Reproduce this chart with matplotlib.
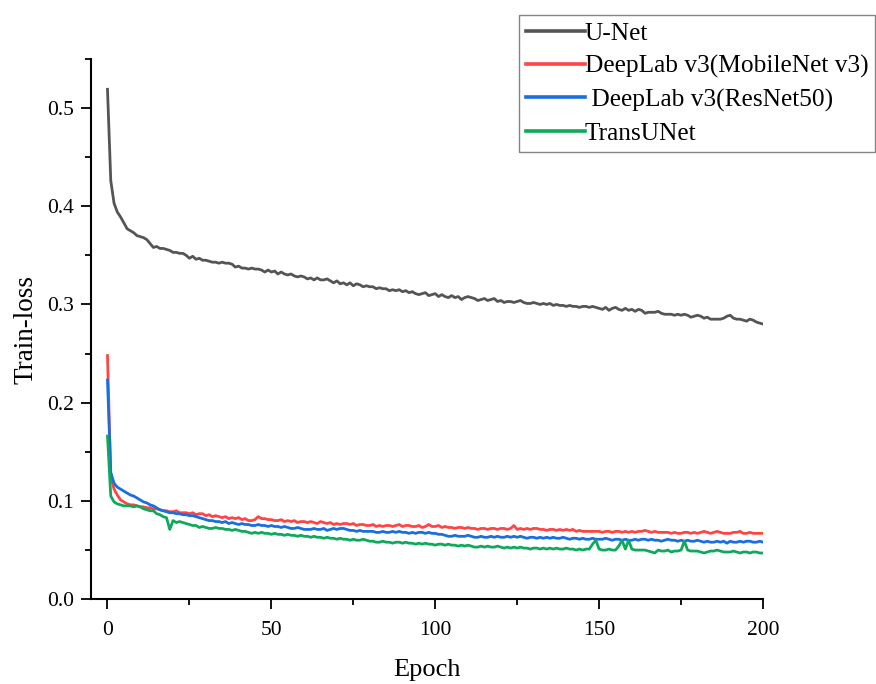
import numpy as np
import matplotlib
matplotlib.use("Agg")
import matplotlib.pyplot as plt

# train loss per epoch (epoch 0..200)
unet = [
    0.519, 0.426, 0.403, 0.394, 0.389, 0.383, 0.377, 0.375, 0.373, 0.370,
    0.369, 0.368, 0.366, 0.362, 0.358, 0.359, 0.357, 0.357, 0.356, 0.355,
    0.353, 0.353, 0.352, 0.352, 0.350, 0.347, 0.349, 0.346, 0.347, 0.345,
    0.345, 0.344, 0.343, 0.343, 0.342, 0.343, 0.342, 0.342, 0.341, 0.338,
    0.339, 0.337, 0.337, 0.336, 0.337, 0.336, 0.336, 0.335, 0.333, 0.335,
    0.333, 0.334, 0.331, 0.333, 0.331, 0.330, 0.331, 0.329, 0.328, 0.329,
    0.328, 0.326, 0.327, 0.325, 0.327, 0.325, 0.325, 0.326, 0.324, 0.322,
    0.324, 0.321, 0.322, 0.320, 0.322, 0.319, 0.321, 0.320, 0.318, 0.319,
    0.318, 0.318, 0.316, 0.317, 0.316, 0.316, 0.314, 0.315, 0.314, 0.315,
    0.313, 0.314, 0.312, 0.313, 0.311, 0.310, 0.311, 0.312, 0.309, 0.310,
    0.311, 0.308, 0.310, 0.308, 0.307, 0.309, 0.307, 0.308, 0.305, 0.307,
    0.308, 0.307, 0.306, 0.304, 0.305, 0.306, 0.304, 0.305, 0.306, 0.303,
    0.304, 0.302, 0.303, 0.303, 0.302, 0.303, 0.304, 0.302, 0.301, 0.301,
    0.302, 0.301, 0.300, 0.301, 0.300, 0.301, 0.299, 0.300, 0.299, 0.299,
    0.298, 0.299, 0.298, 0.298, 0.297, 0.298, 0.298, 0.297, 0.298, 0.297,
    0.296, 0.295, 0.297, 0.294, 0.296, 0.297, 0.295, 0.294, 0.296, 0.294,
    0.295, 0.293, 0.295, 0.294, 0.291, 0.292, 0.292, 0.292, 0.293, 0.291,
    0.290, 0.290, 0.290, 0.289, 0.290, 0.289, 0.290, 0.289, 0.287, 0.288,
    0.289, 0.288, 0.286, 0.287, 0.285, 0.285, 0.285, 0.285, 0.286, 0.288,
    0.289, 0.286, 0.285, 0.285, 0.284, 0.283, 0.285, 0.284, 0.282, 0.281,
    0.280,
]

mobilenet = [
    0.248, 0.125, 0.112, 0.106, 0.101, 0.099, 0.097, 0.096, 0.096, 0.095,
    0.094, 0.094, 0.093, 0.093, 0.092, 0.092, 0.091, 0.090, 0.090, 0.089,
    0.089, 0.090, 0.088, 0.088, 0.088, 0.087, 0.088, 0.086, 0.087, 0.087,
    0.085, 0.086, 0.084, 0.085, 0.084, 0.083, 0.084, 0.082, 0.083, 0.082,
    0.083, 0.081, 0.082, 0.080, 0.080, 0.081, 0.084, 0.082, 0.082, 0.081,
    0.081, 0.080, 0.080, 0.081, 0.079, 0.080, 0.079, 0.080, 0.078, 0.079,
    0.079, 0.078, 0.079, 0.078, 0.077, 0.079, 0.078, 0.077, 0.078, 0.076,
    0.077, 0.076, 0.077, 0.077, 0.076, 0.077, 0.075, 0.076, 0.076, 0.075,
    0.075, 0.076, 0.074, 0.075, 0.074, 0.075, 0.075, 0.074, 0.075, 0.076,
    0.074, 0.075, 0.075, 0.074, 0.074, 0.075, 0.073, 0.074, 0.076, 0.074,
    0.074, 0.075, 0.073, 0.074, 0.073, 0.073, 0.072, 0.073, 0.073, 0.072,
    0.073, 0.072, 0.072, 0.071, 0.072, 0.072, 0.071, 0.072, 0.072, 0.071,
    0.072, 0.072, 0.071, 0.072, 0.075, 0.071, 0.072, 0.071, 0.072, 0.071,
    0.072, 0.072, 0.071, 0.071, 0.070, 0.071, 0.071, 0.070, 0.071, 0.070,
    0.071, 0.070, 0.071, 0.069, 0.070, 0.069, 0.069, 0.069, 0.069, 0.069,
    0.069, 0.068, 0.069, 0.069, 0.068, 0.069, 0.069, 0.068, 0.069, 0.068,
    0.069, 0.068, 0.069, 0.069, 0.070, 0.069, 0.068, 0.069, 0.068, 0.068,
    0.068, 0.068, 0.067, 0.068, 0.067, 0.067, 0.068, 0.068, 0.067, 0.068,
    0.067, 0.068, 0.069, 0.068, 0.067, 0.068, 0.069, 0.068, 0.067, 0.067,
    0.067, 0.068, 0.068, 0.069, 0.067, 0.067, 0.068, 0.067, 0.067, 0.067,
    0.067,
]

resnet = [
    0.223, 0.129, 0.118, 0.114, 0.112, 0.110, 0.108, 0.106, 0.105, 0.103,
    0.101, 0.099, 0.098, 0.096, 0.095, 0.093, 0.091, 0.090, 0.089, 0.088,
    0.088, 0.087, 0.087, 0.086, 0.086, 0.085, 0.085, 0.084, 0.083, 0.082,
    0.081, 0.080, 0.080, 0.079, 0.079, 0.078, 0.079, 0.077, 0.078, 0.077,
    0.076, 0.077, 0.076, 0.076, 0.075, 0.075, 0.076, 0.075, 0.075, 0.074,
    0.075, 0.074, 0.074, 0.073, 0.074, 0.073, 0.072, 0.072, 0.073, 0.072,
    0.071, 0.071, 0.071, 0.072, 0.071, 0.071, 0.072, 0.070, 0.071, 0.072,
    0.071, 0.072, 0.072, 0.071, 0.070, 0.070, 0.069, 0.070, 0.069, 0.069,
    0.069, 0.069, 0.068, 0.068, 0.069, 0.068, 0.068, 0.069, 0.068, 0.069,
    0.068, 0.068, 0.067, 0.068, 0.067, 0.068, 0.068, 0.067, 0.068, 0.067,
    0.067, 0.066, 0.066, 0.065, 0.064, 0.064, 0.065, 0.064, 0.064, 0.064,
    0.065, 0.064, 0.063, 0.063, 0.064, 0.063, 0.063, 0.064, 0.063, 0.064,
    0.063, 0.063, 0.064, 0.063, 0.064, 0.063, 0.064, 0.063, 0.062, 0.063,
    0.063, 0.062, 0.063, 0.062, 0.063, 0.062, 0.063, 0.062, 0.062, 0.063,
    0.062, 0.061, 0.062, 0.062, 0.061, 0.062, 0.061, 0.061, 0.062, 0.061,
    0.061, 0.061, 0.062, 0.061, 0.060, 0.061, 0.061, 0.060, 0.061, 0.060,
    0.060, 0.061, 0.060, 0.061, 0.061, 0.060, 0.061, 0.060, 0.060, 0.059,
    0.060, 0.061, 0.060, 0.060, 0.059, 0.060, 0.059, 0.060, 0.059, 0.059,
    0.060, 0.059, 0.058, 0.059, 0.058, 0.058, 0.059, 0.058, 0.059, 0.057,
    0.059, 0.058, 0.058, 0.059, 0.058, 0.059, 0.059, 0.058, 0.058, 0.059,
    0.058,
]

transunet = [
    0.166, 0.105, 0.099, 0.097, 0.096, 0.095, 0.095, 0.095, 0.094, 0.095,
    0.094, 0.092, 0.091, 0.090, 0.090, 0.087, 0.086, 0.084, 0.083, 0.071,
    0.080, 0.078, 0.079, 0.078, 0.077, 0.076, 0.075, 0.075, 0.073, 0.074,
    0.073, 0.072, 0.072, 0.073, 0.072, 0.072, 0.071, 0.071, 0.070, 0.071,
    0.070, 0.069, 0.069, 0.068, 0.067, 0.068, 0.067, 0.068, 0.067, 0.067,
    0.066, 0.067, 0.066, 0.066, 0.065, 0.066, 0.065, 0.065, 0.064, 0.065,
    0.064, 0.064, 0.063, 0.064, 0.063, 0.063, 0.062, 0.063, 0.062, 0.062,
    0.061, 0.062, 0.061, 0.061, 0.060, 0.061, 0.060, 0.060, 0.061, 0.060,
    0.059, 0.059, 0.058, 0.058, 0.059, 0.058, 0.058, 0.057, 0.058, 0.058,
    0.057, 0.058, 0.057, 0.057, 0.056, 0.057, 0.056, 0.057, 0.056, 0.056,
    0.055, 0.056, 0.056, 0.055, 0.056, 0.055, 0.055, 0.054, 0.055, 0.054,
    0.055, 0.054, 0.053, 0.053, 0.054, 0.053, 0.054, 0.053, 0.053, 0.054,
    0.053, 0.052, 0.053, 0.052, 0.053, 0.052, 0.053, 0.052, 0.052, 0.051,
    0.052, 0.052, 0.051, 0.052, 0.051, 0.052, 0.051, 0.052, 0.051, 0.051,
    0.052, 0.051, 0.051, 0.050, 0.051, 0.050, 0.051, 0.051, 0.056, 0.060,
    0.051, 0.050, 0.050, 0.051, 0.050, 0.050, 0.054, 0.060, 0.051, 0.060,
    0.051, 0.050, 0.050, 0.050, 0.050, 0.049, 0.048, 0.047, 0.050, 0.049,
    0.049, 0.050, 0.048, 0.049, 0.049, 0.050, 0.059, 0.050, 0.049, 0.049,
    0.049, 0.048, 0.047, 0.048, 0.049, 0.049, 0.050, 0.049, 0.048, 0.048,
    0.048, 0.049, 0.048, 0.047, 0.048, 0.048, 0.047, 0.048, 0.048, 0.047,
    0.047,
]

labels = ["U-Net", "DeepLab v3(MobileNet v3)", " DeepLab v3(ResNet50)", "TransUNet"]
colors = ["#555555", "#ff4444", "#1a6fe0", "#0fa95b"]

plt.rcParams['font.family'] = ['Liberation Serif', 'DejaVu Serif']
plt.rcParams['xtick.labelsize'] = 15.5
plt.rcParams['ytick.labelsize'] = 15.5

fig = plt.figure(figsize=(8.76, 6.84), dpi=100)
ax = fig.add_axes([0.104, 0.124, 0.767, 0.790])

epochs = np.arange(len(unet))
for ys, lab, col in zip([unet, mobilenet, resnet, transunet], labels, colors):
    ax.plot(epochs, ys, color=col, lw=2.0, label=lab)

ax.set_xlim(-5, 200)
ax.set_ylim(0, 0.55)
ax.set_xticks([0, 50, 100, 150, 200])
ax.set_xticks([25, 75, 125, 175], minor=True)
ax.set_yticks([0.0, 0.1, 0.2, 0.3, 0.4, 0.5])
ax.set_yticks([0.05, 0.15, 0.25, 0.35, 0.45, 0.55], minor=True)
ax.set_yticklabels(["0.0", "0.1", "0.2", "0.3", "0.4", "0.5"])

ax.spines['top'].set_visible(False)
ax.spines['right'].set_visible(False)
for s in ['left', 'bottom']:
    ax.spines[s].set_linewidth(1.5)
ax.tick_params(which='major', direction='out', length=7.5, width=1.3)
ax.tick_params(axis='y', which='major', pad=5)
ax.tick_params(axis='x', which='major', pad=8)
ax.tick_params(which='minor', direction='out', length=4, width=1.3)

ax.set_xlabel("Epoch", fontsize=19, labelpad=14)
ax.set_ylabel("Train-loss", fontsize=19.5, labelpad=6)

leg = fig.legend(loc='upper left', bbox_to_anchor=(519 / 876, 1 - 15 / 684),
                 fontsize=18.3, frameon=True, fancybox=False, handlelength=2.3,
                 handletextpad=0.0, borderpad=0.28, borderaxespad=0, labelspacing=0.4)
leg.get_frame().set_edgecolor("#666666")
leg.get_frame().set_linewidth(1.0)
for h in leg.get_lines():
    h.set_linewidth(2.6)

fig.savefig("out.png", dpi=100)
